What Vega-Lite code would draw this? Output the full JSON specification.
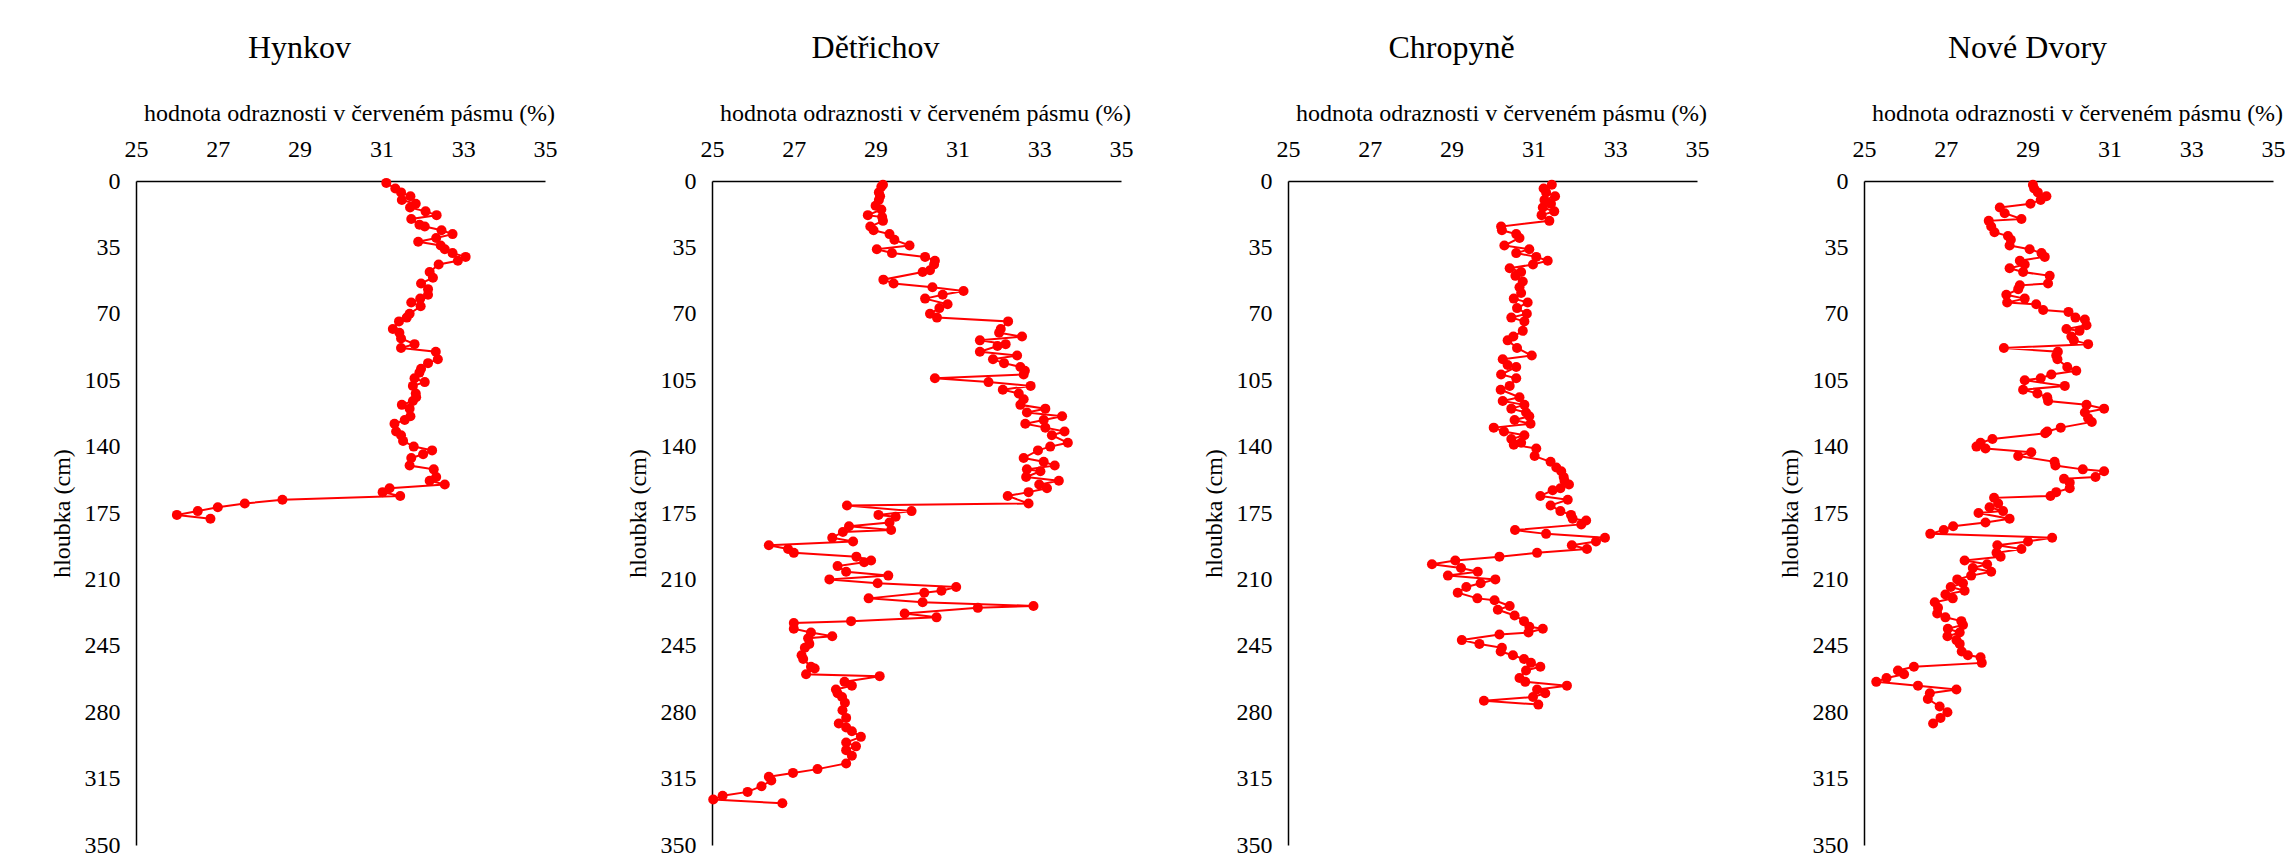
{
  "$schema": "https://vega.github.io/schema/vega-lite/v6.json",
  "padding": {"left": 50, "top": 32, "right": 0, "bottom": 0},
  "background": "#ffffff",
  "datasets": {
    "hynkov": [
      {"d":1,"v":31.12},{"d":4,"v":31.34},{"d":6,"v":31.48},{"d":8,"v":31.71},{"d":10,"v":31.5},{"d":12,"v":31.84},{"d":14,"v":31.7},{"d":16,"v":32.08},{"d":18,"v":32.35},{"d":20,"v":31.73},{"d":23,"v":31.93},{"d":24,"v":32.06},{"d":26,"v":32.47},{"d":28,"v":32.74},{"d":30,"v":32.34},{"d":32,"v":31.9},{"d":34,"v":32.45},{"d":36,"v":32.55},{"d":38,"v":32.74},{"d":40,"v":33.06},{"d":42,"v":32.87},{"d":44,"v":32.4},{"d":48,"v":32.18},{"d":51,"v":32.26},{"d":54,"v":31.97},{"d":57,"v":32.14},{"d":60,"v":32.14},{"d":62,"v":31.95},{"d":64,"v":31.73},{"d":66,"v":31.96},{"d":70,"v":31.69},{"d":72,"v":31.62},{"d":74,"v":31.43},{"d":78,"v":31.28},{"d":80,"v":31.44},{"d":83,"v":31.48},{"d":86,"v":31.81},{"d":88,"v":31.48},{"d":90,"v":32.33},{"d":94,"v":32.38},{"d":96,"v":32.14},{"d":99,"v":31.97},{"d":101,"v":31.93},{"d":104,"v":31.81},{"d":106,"v":32.06},{"d":108,"v":31.77},{"d":112,"v":31.84},{"d":114,"v":31.85},{"d":116,"v":31.77},{"d":118,"v":31.5},{"d":120,"v":31.69},{"d":124,"v":31.71},{"d":126,"v":31.57},{"d":128,"v":31.32},{"d":132,"v":31.36},{"d":134,"v":31.48},{"d":137,"v":31.53},{"d":140,"v":31.79},{"d":142,"v":32.24},{"d":144,"v":32.02},{"d":146,"v":31.73},{"d":150,"v":31.69},{"d":152,"v":32.28},{"d":156,"v":32.34},{"d":158,"v":32.18},{"d":160,"v":32.55},{"d":162,"v":31.2},{"d":164,"v":31.03},{"d":166,"v":31.46},{"d":168,"v":28.58},{"d":170,"v":27.66},{"d":172,"v":27.0},{"d":174,"v":26.51},{"d":176,"v":26.0},{"d":178,"v":26.82}
    ],
    "detrichov": [
      {"d":2,"v":29.18},{"d":3,"v":29.14},{"d":6,"v":29.08},{"d":8,"v":29.11},{"d":10,"v":29.08},{"d":13,"v":29.0},{"d":15,"v":29.14},{"d":18,"v":28.81},{"d":19,"v":29.16},{"d":21,"v":29.18},{"d":24,"v":28.87},{"d":26,"v":28.95},{"d":28,"v":29.34},{"d":31,"v":29.46},{"d":34,"v":29.83},{"d":36,"v":29.03},{"d":38,"v":29.4},{"d":40,"v":30.21},{"d":42,"v":30.45},{"d":44,"v":30.43},{"d":47,"v":30.33},{"d":48,"v":30.15},{"d":52,"v":29.19},{"d":54,"v":29.44},{"d":56,"v":30.39},{"d":58,"v":31.15},{"d":60,"v":30.64},{"d":62,"v":30.21},{"d":65,"v":30.76},{"d":67,"v":30.56},{"d":70,"v":30.33},{"d":72,"v":30.5},{"d":74,"v":32.24},{"d":78,"v":32.06},{"d":80,"v":32.02},{"d":82,"v":32.58},{"d":84,"v":31.55},{"d":86,"v":32.18},{"d":87,"v":31.98},{"d":90,"v":31.55},{"d":92,"v":32.46},{"d":94,"v":31.87},{"d":96,"v":32.14},{"d":98,"v":32.54},{"d":100,"v":32.65},{"d":102,"v":32.62},{"d":104,"v":30.45},{"d":106,"v":31.76},{"d":108,"v":32.79},{"d":110,"v":32.11},{"d":112,"v":32.5},{"d":115,"v":32.62},{"d":118,"v":32.54},{"d":120,"v":33.15},{"d":122,"v":32.7},{"d":124,"v":33.56},{"d":126,"v":33.11},{"d":128,"v":32.66},{"d":130,"v":33.15},{"d":132,"v":33.62},{"d":134,"v":33.31},{"d":138,"v":33.7},{"d":140,"v":33.27},{"d":142,"v":32.97},{"d":146,"v":32.62},{"d":148,"v":33.11},{"d":150,"v":33.38},{"d":152,"v":32.7},{"d":153,"v":33.03},{"d":156,"v":32.68},{"d":158,"v":33.48},{"d":160,"v":33.0},{"d":162,"v":33.19},{"d":164,"v":32.74},{"d":166,"v":32.23},{"d":170,"v":32.74},{"d":171,"v":28.3},{"d":174,"v":29.88},{"d":176,"v":29.07},{"d":177,"v":29.49},{"d":180,"v":29.34},{"d":182,"v":28.35},{"d":184,"v":29.38},{"d":185,"v":28.2},{"d":188,"v":27.94},{"d":190,"v":28.45},{"d":192,"v":26.39},{"d":194,"v":26.86},{"d":196,"v":27.0},{"d":198,"v":28.53},{"d":200,"v":28.89},{"d":201,"v":28.72},{"d":203,"v":28.07},{"d":206,"v":28.28},{"d":208,"v":29.31},{"d":210,"v":27.87},{"d":212,"v":29.05},{"d":214,"v":30.97},{"d":216,"v":30.61},{"d":217,"v":30.19},{"d":220,"v":28.83},{"d":222,"v":30.15},{"d":224,"v":32.86},{"d":225,"v":31.5},{"d":228,"v":29.71},{"d":230,"v":30.49},{"d":232,"v":28.4},{"d":233,"v":27.0},{"d":236,"v":27.0},{"d":238,"v":27.42},{"d":240,"v":27.94},{"d":241,"v":27.35},{"d":244,"v":27.38},{"d":246,"v":27.27},{"d":250,"v":27.19},{"d":252,"v":27.23},{"d":256,"v":27.42},{"d":257,"v":27.51},{"d":260,"v":27.3},{"d":261,"v":29.1},{"d":264,"v":28.24},{"d":266,"v":28.42},{"d":268,"v":28.03},{"d":270,"v":28.07},{"d":272,"v":28.18},{"d":275,"v":28.25},{"d":279,"v":28.19},{"d":283,"v":28.28},{"d":286,"v":28.1},{"d":288,"v":28.28},{"d":290,"v":28.42},{"d":293,"v":28.64},{"d":296,"v":28.28},{"d":298,"v":28.52},{"d":300,"v":28.28},{"d":303,"v":28.42},{"d":307,"v":28.28},{"d":310,"v":27.58},{"d":312,"v":26.98},{"d":314,"v":26.39},{"d":316,"v":26.45},{"d":319,"v":26.21},{"d":322,"v":25.87},{"d":324,"v":25.26},{"d":326,"v":25.03},{"d":328,"v":26.72}
    ],
    "chropyne": [
      {"d":2,"v":31.45},{"d":4,"v":31.25},{"d":6,"v":31.31},{"d":8,"v":31.53},{"d":10,"v":31.27},{"d":12,"v":31.43},{"d":14,"v":31.23},{"d":16,"v":31.51},{"d":18,"v":31.2},{"d":21,"v":31.39},{"d":24,"v":30.21},{"d":26,"v":30.23},{"d":28,"v":30.58},{"d":30,"v":30.66},{"d":34,"v":30.29},{"d":36,"v":30.9},{"d":38,"v":30.58},{"d":40,"v":31.07},{"d":42,"v":31.35},{"d":44,"v":30.99},{"d":46,"v":30.42},{"d":48,"v":30.7},{"d":50,"v":30.56},{"d":53,"v":30.74},{"d":56,"v":30.66},{"d":59,"v":30.7},{"d":62,"v":30.52},{"d":64,"v":30.86},{"d":67,"v":30.6},{"d":70,"v":30.84},{"d":72,"v":30.46},{"d":74,"v":30.78},{"d":79,"v":30.74},{"d":82,"v":30.51},{"d":84,"v":30.37},{"d":88,"v":30.6},{"d":92,"v":30.96},{"d":94,"v":30.25},{"d":97,"v":30.37},{"d":98,"v":30.58},{"d":102,"v":30.21},{"d":104,"v":30.58},{"d":108,"v":30.42},{"d":110,"v":30.2},{"d":114,"v":30.66},{"d":116,"v":30.25},{"d":118,"v":30.78},{"d":120,"v":30.46},{"d":122,"v":30.82},{"d":124,"v":30.9},{"d":126,"v":30.54},{"d":128,"v":30.93},{"d":130,"v":30.03},{"d":132,"v":30.28},{"d":134,"v":30.78},{"d":136,"v":30.46},{"d":138,"v":30.7},{"d":139,"v":30.52},{"d":141,"v":31.07},{"d":145,"v":31.03},{"d":148,"v":31.42},{"d":151,"v":31.56},{"d":153,"v":31.68},{"d":156,"v":31.74},{"d":158,"v":31.76},{"d":160,"v":31.87},{"d":162,"v":31.66},{"d":163,"v":31.47},{"d":166,"v":31.17},{"d":168,"v":31.84},{"d":171,"v":31.42},{"d":174,"v":31.66},{"d":176,"v":31.92},{"d":178,"v":31.96},{"d":179,"v":32.29},{"d":181,"v":32.17},{"d":184,"v":30.55},{"d":186,"v":31.31},{"d":188,"v":32.75},{"d":190,"v":32.53},{"d":192,"v":31.94},{"d":194,"v":32.31},{"d":196,"v":31.09},{"d":198,"v":30.17},{"d":200,"v":29.09},{"d":202,"v":28.52},{"d":204,"v":29.23},{"d":206,"v":29.64},{"d":208,"v":28.91},{"d":210,"v":30.07},{"d":212,"v":29.71},{"d":214,"v":29.36},{"d":217,"v":29.15},{"d":220,"v":29.63},{"d":221,"v":30.05},{"d":224,"v":30.42},{"d":226,"v":30.13},{"d":229,"v":30.54},{"d":232,"v":30.77},{"d":235,"v":30.9},{"d":236,"v":31.23},{"d":238,"v":30.88},{"d":239,"v":30.17},{"d":242,"v":29.25},{"d":244,"v":29.68},{"d":246,"v":30.23},{"d":248,"v":30.2},{"d":250,"v":30.5},{"d":252,"v":30.77},{"d":254,"v":30.94},{"d":256,"v":31.17},{"d":258,"v":30.82},{"d":262,"v":30.66},{"d":264,"v":30.8},{"d":266,"v":31.82},{"d":268,"v":31.09},{"d":270,"v":31.29},{"d":272,"v":30.99},{"d":274,"v":29.79},{"d":276,"v":31.12}
    ],
    "novedvory": [
      {"d":2,"v":29.13},{"d":4,"v":29.16},{"d":6,"v":29.25},{"d":8,"v":29.46},{"d":10,"v":29.32},{"d":12,"v":29.07},{"d":14,"v":28.32},{"d":17,"v":28.44},{"d":20,"v":28.85},{"d":21,"v":28.05},{"d":24,"v":28.11},{"d":27,"v":28.19},{"d":29,"v":28.52},{"d":31,"v":28.59},{"d":34,"v":28.56},{"d":36,"v":29.05},{"d":38,"v":29.34},{"d":40,"v":29.42},{"d":42,"v":28.81},{"d":44,"v":28.93},{"d":46,"v":28.56},{"d":48,"v":28.89},{"d":50,"v":29.54},{"d":54,"v":29.5},{"d":55,"v":28.81},{"d":57,"v":28.77},{"d":60,"v":28.48},{"d":62,"v":28.93},{"d":64,"v":28.5},{"d":65,"v":29.21},{"d":68,"v":29.38},{"d":69,"v":30.0},{"d":72,"v":30.17},{"d":73,"v":30.4},{"d":76,"v":30.44},{"d":78,"v":29.95},{"d":79,"v":30.27},{"d":82,"v":30.07},{"d":84,"v":30.13},{"d":86,"v":30.48},{"d":88,"v":28.42},{"d":90,"v":29.74},{"d":92,"v":29.7},{"d":94,"v":29.73},{"d":98,"v":29.97},{"d":100,"v":30.19},{"d":102,"v":29.58},{"d":104,"v":29.32},{"d":105,"v":28.93},{"d":108,"v":29.91},{"d":110,"v":28.89},{"d":112,"v":29.24},{"d":114,"v":29.48},{"d":116,"v":29.5},{"d":118,"v":30.44},{"d":120,"v":30.87},{"d":122,"v":30.4},{"d":125,"v":30.48},{"d":127,"v":30.57},{"d":130,"v":29.81},{"d":132,"v":29.48},{"d":133,"v":29.43},{"d":136,"v":28.14},{"d":138,"v":27.85},{"d":140,"v":27.75},{"d":141,"v":27.97},{"d":143,"v":29.09},{"d":145,"v":28.77},{"d":148,"v":29.66},{"d":150,"v":29.68},{"d":152,"v":30.35},{"d":153,"v":30.87},{"d":156,"v":30.66},{"d":157,"v":29.89},{"d":159,"v":30.03},{"d":162,"v":30.03},{"d":164,"v":29.7},{"d":166,"v":29.56},{"d":167,"v":28.18},{"d":170,"v":28.28},{"d":172,"v":28.07},{"d":174,"v":28.4},{"d":175,"v":27.8},{"d":178,"v":28.56},{"d":180,"v":27.97},{"d":182,"v":27.18},{"d":184,"v":26.95},{"d":186,"v":26.62},{"d":188,"v":29.6},{"d":190,"v":29.01},{"d":192,"v":28.26},{"d":194,"v":28.85},{"d":196,"v":28.24},{"d":198,"v":28.34},{"d":200,"v":27.46},{"d":202,"v":28.01},{"d":204,"v":27.66},{"d":206,"v":28.11},{"d":208,"v":27.62},{"d":210,"v":27.28},{"d":212,"v":27.42},{"d":214,"v":27.12},{"d":216,"v":27.46},{"d":218,"v":26.99},{"d":220,"v":27.17},{"d":222,"v":26.73},{"d":225,"v":26.81},{"d":228,"v":26.79},{"d":230,"v":26.99},{"d":232,"v":27.38},{"d":234,"v":27.42},{"d":236,"v":27.05},{"d":238,"v":27.34},{"d":240,"v":27.04},{"d":242,"v":27.26},{"d":244,"v":27.34},{"d":248,"v":27.39},{"d":250,"v":27.54},{"d":251,"v":27.85},{"d":254,"v":27.88},{"d":256,"v":26.22},{"d":258,"v":25.83},{"d":260,"v":25.98},{"d":262,"v":25.55},{"d":264,"v":25.3},{"d":266,"v":26.32},{"d":268,"v":27.26},{"d":270,"v":26.61},{"d":273,"v":26.56},{"d":277,"v":26.85},{"d":280,"v":27.04},{"d":283,"v":26.87},{"d":286,"v":26.69}
    ]
  },
  "spacing": 167,
  "bounds": "flush",
  "hconcat": [
    {
      "title": {"text": "Hynkov", "dx": -41},
      "width": 409, "height": 664,
      "data": {"name": "hynkov"},
      "mark": {"type": "line", "color": "#ff0000", "strokeWidth": 2, "point": {"filled": true, "size": 100, "color": "#ff0000", "opacity": 1}},
      "encoding": {
        "x": {"field": "v", "type": "quantitative", "scale": {"domain": [25, 35], "nice": false, "zero": false}, "axis": {"orient": "top", "values": [25, 27, 29, 31, 33, 35], "title": "hodnota odraznosti v červeném pásmu (%)"}},
        "y": {"field": "d", "type": "quantitative", "scale": {"domain": [0, 350], "reverse": true, "nice": false}, "axis": {"values": [0, 35, 70, 105, 140, 175, 210, 245, 280, 315, 350], "title": "hloubka (cm)"}},
        "order": {"field": "d", "type": "quantitative"}
      }
    },
    {
      "title": {"text": "Dětřichov", "dx": -41},
      "width": 409, "height": 664,
      "data": {"name": "detrichov"},
      "mark": {"type": "line", "color": "#ff0000", "strokeWidth": 2, "point": {"filled": true, "size": 100, "color": "#ff0000", "opacity": 1}},
      "encoding": {
        "x": {"field": "v", "type": "quantitative", "scale": {"domain": [25, 35], "nice": false, "zero": false}, "axis": {"orient": "top", "values": [25, 27, 29, 31, 33, 35], "title": "hodnota odraznosti v červeném pásmu (%)"}},
        "y": {"field": "d", "type": "quantitative", "scale": {"domain": [0, 350], "reverse": true, "nice": false}, "axis": {"values": [0, 35, 70, 105, 140, 175, 210, 245, 280, 315, 350], "title": "hloubka (cm)"}},
        "order": {"field": "d", "type": "quantitative"}
      }
    },
    {
      "title": {"text": "Chropyně", "dx": -41},
      "width": 409, "height": 664,
      "data": {"name": "chropyne"},
      "mark": {"type": "line", "color": "#ff0000", "strokeWidth": 2, "point": {"filled": true, "size": 100, "color": "#ff0000", "opacity": 1}},
      "encoding": {
        "x": {"field": "v", "type": "quantitative", "scale": {"domain": [25, 35], "nice": false, "zero": false}, "axis": {"orient": "top", "values": [25, 27, 29, 31, 33, 35], "title": "hodnota odraznosti v červeném pásmu (%)"}},
        "y": {"field": "d", "type": "quantitative", "scale": {"domain": [0, 350], "reverse": true, "nice": false}, "axis": {"values": [0, 35, 70, 105, 140, 175, 210, 245, 280, 315, 350], "title": "hloubka (cm)"}},
        "order": {"field": "d", "type": "quantitative"}
      }
    },
    {
      "title": {"text": "Nové Dvory", "dx": -41},
      "width": 409, "height": 664,
      "data": {"name": "novedvory"},
      "mark": {"type": "line", "color": "#ff0000", "strokeWidth": 2, "point": {"filled": true, "size": 100, "color": "#ff0000", "opacity": 1}},
      "encoding": {
        "x": {"field": "v", "type": "quantitative", "scale": {"domain": [25, 35], "nice": false, "zero": false}, "axis": {"orient": "top", "values": [25, 27, 29, 31, 33, 35], "title": "hodnota odraznosti v červeném pásmu (%)"}},
        "y": {"field": "d", "type": "quantitative", "scale": {"domain": [0, 350], "reverse": true, "nice": false}, "axis": {"values": [0, 35, 70, 105, 140, 175, 210, 245, 280, 315, 350], "title": "hloubka (cm)"}},
        "order": {"field": "d", "type": "quantitative"}
      }
    }
  ],
  "config": {
    "font": "Liberation Serif",
    "view": {"stroke": null},
    "axis": {
      "labelFont": "Liberation Serif", "titleFont": "Liberation Serif",
      "labelFontSize": 24, "titleFontSize": 24,
      "labelColor": "#000000", "titleColor": "#000000", "titleFontWeight": "normal",
      "grid": false, "ticks": false, "tickSize": 0, "labelFlush": false,
      "domainColor": "#000000", "domainWidth": 1.5
    },
    "axisX": {"labelPadding": 20, "titlePadding": 12, "titleX": 213},
    "axisY": {"labelPadding": 16, "titlePadding": 10},
    "title": {"font": "Liberation Serif", "fontSize": 32, "fontWeight": "normal", "color": "#000000", "anchor": "middle", "offset": 36}
  }
}
